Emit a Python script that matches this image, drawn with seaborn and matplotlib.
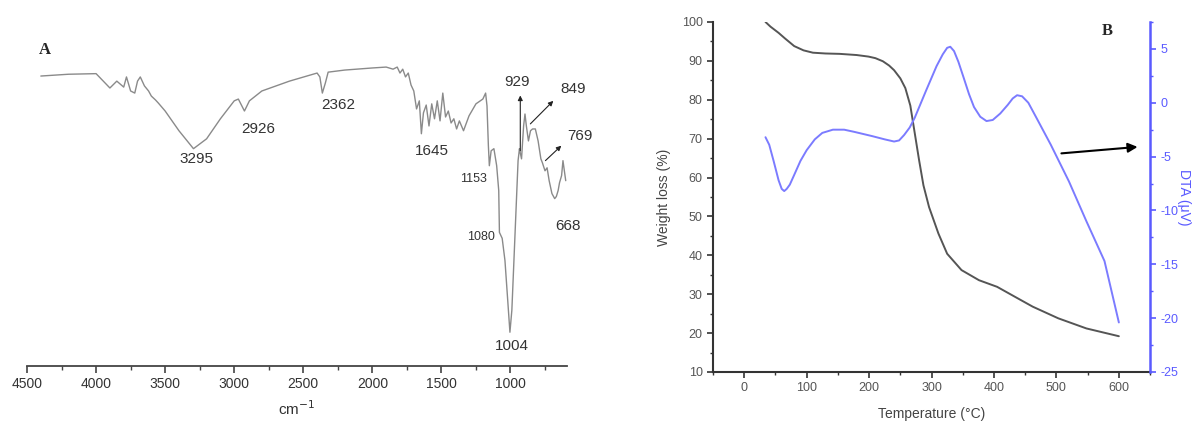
import numpy as np
import pandas as pd
import seaborn as sns
import matplotlib.pyplot as plt
from matplotlib.ticker import MultipleLocator

# ---------------------------------------------------------
# Panel A : FTIR spectrum
# ---------------------------------------------------------
wavenumber = [4400, 4200, 4000, 3900, 3850, 3800, 3780, 3750, 3720, 3700, 3680,
              3650, 3620, 3600, 3570, 3550, 3500, 3400, 3295, 3200, 3100, 3000,
              2970, 2926, 2890, 2800, 2600, 2400, 2380, 2362, 2340, 2320, 2200,
              2000, 1900, 1850, 1820, 1800, 1780, 1760, 1740, 1720, 1700, 1680,
              1660, 1645, 1630, 1610, 1590, 1570, 1550, 1530, 1510, 1490, 1470,
              1450, 1430, 1410, 1390, 1370, 1340, 1300, 1250, 1200, 1180, 1170,
              1160, 1153, 1140, 1120, 1100, 1085, 1080, 1060, 1040, 1020, 1004,
              990, 975, 960, 945, 935, 929, 920, 905, 895, 885, 870, 855, 840,
              820, 800, 780, 769, 750, 735, 720, 700, 680, 668, 655, 645, 630,
              620, 610, 600]
transmittance = [97.0, 97.6, 97.8, 93.0, 95.3, 93.3, 96.7, 92.0, 91.3, 95.3, 96.7,
                 93.7, 92.0, 90.3, 89.0, 88.0, 85.3, 78.7, 72.7, 76.0, 82.7, 88.7,
                 89.3, 85.3, 88.7, 92.0, 95.3, 98.0, 96.7, 91.3, 94.7, 98.3, 99.0,
                 99.7, 100.0, 99.3, 100.0, 98.0, 99.3, 96.7, 98.0, 94.0, 92.0, 86.0,
                 88.7, 77.7, 84.7, 87.3, 80.3, 87.7, 82.7, 88.7, 82.0, 91.3, 83.3,
                 85.3, 81.3, 82.7, 79.3, 82.0, 78.7, 83.7, 87.7, 89.3, 91.3, 87.0,
                 73.7, 67.0, 72.0, 72.7, 67.0, 58.7, 44.7, 42.7, 35.3, 22.0, 11.3,
                 18.7, 35.3, 52.0, 68.7, 72.7, 71.3, 69.3, 80.3, 84.3, 80.3, 75.3,
                 78.7, 79.3, 79.3, 75.3, 69.3, 68.0, 65.3, 66.3, 62.0, 57.7, 56.0,
                 56.7, 58.7, 61.3, 63.7, 68.7, 65.3, 62.0]

peak_labels = ['3295', '2926', '2362', '1645', '1153', '1080', '1004',
               '929', '849', '769', '668']
ftir_ticks = [4500, 4000, 3500, 3000, 2500, 2000, 1500, 1000]

# ---------------------------------------------------------
# Panel B : TG / DTA curves
# ---------------------------------------------------------
temp_tg = [34, 42, 55, 65, 80, 95, 110, 130, 153, 180, 199, 210, 222, 232, 240,
           250, 258, 266, 273, 280, 287, 296, 311, 325, 348, 376, 405, 434,
           462, 503, 548, 600]
weight = [100.0, 98.8, 97.2, 95.8, 93.8, 92.7, 92.1, 91.9, 91.8, 91.5, 91.1,
          90.7, 89.9, 88.8, 87.6, 85.5, 83.0, 78.5, 71.5, 64.5, 58.0, 52.4,
          45.6, 40.4, 36.2, 33.6, 31.9, 29.3, 26.8, 23.8, 21.2, 19.2]

temp_dta = [34, 40, 47, 55, 60, 64, 68, 73, 80, 90, 100, 113, 125, 142, 160,
            176, 205, 225, 240, 248, 256, 265, 273, 291, 308, 318, 325, 330,
            336, 343, 351, 360, 368, 378, 388, 398, 410, 422, 430, 437, 445,
            455, 468, 491, 520, 548, 577, 600]
dta = [-3.2, -3.9, -5.4, -7.2, -8.0, -8.2, -8.0, -7.6, -6.7, -5.4, -4.4, -3.4,
       -2.8, -2.5, -2.5, -2.7, -3.1, -3.4, -3.6, -3.5, -3.0, -2.3, -1.4, 1.1,
       3.4, 4.5, 5.1, 5.2, 4.8, 3.8, 2.4, 0.8, -0.4, -1.3, -1.7, -1.6, -1.0,
       -0.2, 0.4, 0.7, 0.6, 0.0, -1.4, -3.9, -7.3, -11.0, -14.7, -20.4]

df_ftir = pd.DataFrame({'wn': wavenumber, 'T': transmittance})
df_tg = pd.DataFrame({'temp': temp_tg, 'w': weight})
df_dta = pd.DataFrame({'temp': temp_dta, 'dta': dta})

sns.set_theme(style="white")
plt.rcParams['font.family'] = ['Liberation Sans', 'DejaVu Sans']
plt.rcParams['axes.unicode_minus'] = False

fig = plt.figure(figsize=(12.01, 4.21), dpi=100)

# ================= Panel A =================
axA = fig.add_axes([0.0225, 0.1306, 0.4497, 0.774])
sns.lineplot(data=df_ftir, x='wn', y='T', ax=axA, color='#8a8a8a',
             linewidth=1.0, estimator=None, sort=False)
axA.set_xlim(4500, 590)
axA.set_ylim(0, 109)
axA.set_xticks(ftir_ticks)
axA.xaxis.set_minor_locator(MultipleLocator(250))
axA.set_yticks([])
axA.set_ylabel('')
axA.set_xlabel('cm$^{-1}$', fontsize=11, color='#333333', labelpad=6)
for s in ['top', 'left', 'right']:
    axA.spines[s].set_visible(False)
axA.spines['bottom'].set_color('#444444')
axA.spines['bottom'].set_linewidth(1.3)
axA.tick_params(axis='x', which='major', direction='out', length=5, width=1.2,
                color='#444444', labelsize=10, labelcolor='#333333', pad=3,
                bottom=True)
axA.tick_params(axis='x', which='minor', direction='out', length=3, width=1.0,
                color='#444444', bottom=True)

label_pos = [(3274, 69.3, 11), (2827, 79.3, 11), (2249, 87.3, 11),
             (1570, 72.0, 11), (1267, 62.7, 9), (1217, 43.0, 9),
             (993, 6.8, 11), (955, 95.0, 11), (545, 92.7, 11),
             (495, 77.0, 11), (581, 47.0, 11)]
for txt, (px, py, fs) in zip(peak_labels, label_pos):
    axA.text(px, py, txt, fontsize=fs, color='#333333', ha='center',
             va='center', clip_on=False)

arrow_kw = dict(arrowstyle='-|>', color='#222222', lw=0.8,
                mutation_scale=7, shrinkA=0, shrinkB=0)
axA.annotate('', xy=(929, 90.5), xytext=(929, 72), arrowprops=arrow_kw,
             annotation_clip=False)
axA.annotate('', xy=(690, 88.7), xytext=(856, 81), arrowprops=arrow_kw,
             annotation_clip=False)
axA.annotate('', xy=(632, 73.7), xytext=(747, 68.7), arrowprops=arrow_kw,
             annotation_clip=False)
fig.text(45 / 1201, 1 - 50 / 421, 'A', fontsize=12, fontweight='bold',
         family=['Liberation Serif', 'DejaVu Serif'], ha='center', va='center')

# ================= Panel B =================
axB = fig.add_axes([0.5937, 0.1164, 0.3639, 0.8314])
sns.lineplot(data=df_tg, x='temp', y='w', ax=axB, color='#555555',
             linewidth=1.4, estimator=None)
axB.set_xlim(-50, 650)
axB.set_ylim(10, 100)
axB.xaxis.set_major_locator(MultipleLocator(100))
axB.xaxis.set_minor_locator(MultipleLocator(50))
axB.yaxis.set_major_locator(MultipleLocator(10))
axB.yaxis.set_minor_locator(MultipleLocator(5))
axB.set_xlabel('Temperature (°C)', fontsize=10, color='#444444', labelpad=9)
axB.set_ylabel('Weight loss (%)', fontsize=10, color='#444444', labelpad=8)
for s in ['top', 'right']:
    axB.spines[s].set_visible(False)
for s in ['left', 'bottom']:
    axB.spines[s].set_color('#333333')
    axB.spines[s].set_linewidth(1.5)
axB.tick_params(axis='both', which='major', direction='out', length=4,
                width=1.2, color='#333333', labelsize=9, labelcolor='#555555',
                left=True, bottom=True)
axB.tick_params(axis='both', which='minor', direction='out', length=2.5,
                width=1.0, color='#333333', left=True, bottom=True)

axB2 = axB.twinx()
sns.lineplot(data=df_dta, x='temp', y='dta', ax=axB2, color='#7b7bff',
             linewidth=1.4, estimator=None)
axB2.set_ylim(-25, 7.5)
axB2.yaxis.set_major_locator(MultipleLocator(5))
axB2.yaxis.set_minor_locator(MultipleLocator(2.5))
axB2.set_ylabel('DTA (μV)', fontsize=10, color='#5a5aff', rotation=270,
                labelpad=9)
for s in ['top', 'left', 'bottom']:
    axB2.spines[s].set_visible(False)
axB2.spines['right'].set_color('#5a5aff')
axB2.spines['right'].set_linewidth(1.8)
axB2.tick_params(axis='y', which='major', direction='out', length=4,
                 width=1.2, color='#5a5aff', labelsize=9,
                 labelcolor='#5a5aff', right=True)
axB2.tick_params(axis='y', which='minor', direction='out', length=2.5,
                 width=1.0, color='#5a5aff', right=True)
axB2.annotate('', xy=(630, -4.1), xytext=(508, -4.7),
              arrowprops=dict(arrowstyle='-|>', color='black', lw=1.5,
                              mutation_scale=14, shrinkA=0, shrinkB=0),
              annotation_clip=False)
fig.text(1107 / 1201, 1 - 31 / 421, 'B', fontsize=12, fontweight='bold',
         family=['Liberation Serif', 'DejaVu Serif'], ha='center', va='center')

fig.savefig('out.png', dpi=100)
